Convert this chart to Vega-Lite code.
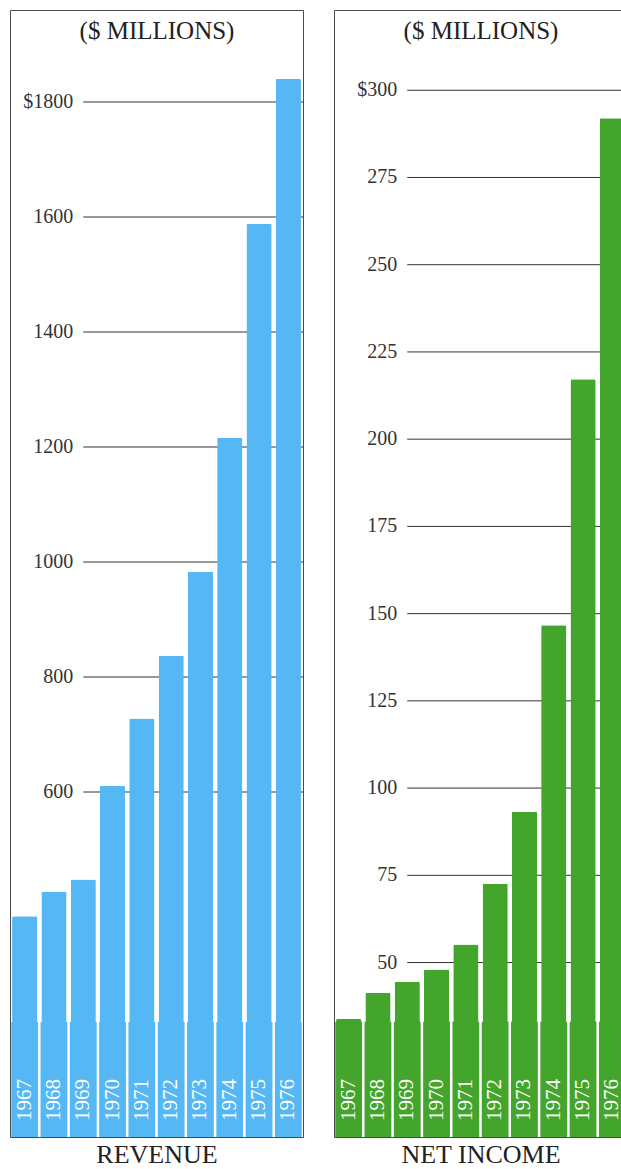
{
  "$schema": "https://vega.github.io/schema/vega-lite/v6.json",
  "background": "white",
  "padding": {"left": 9, "top": 9, "right": 0, "bottom": 0},
  "config": {
    "font": "Liberation Serif",
    "view": {"stroke": "#4a4a4a", "strokeWidth": 1},
    "concat": {"spacing": 29}
  },
  "datasets": {
    "financials": [
      {"year": "1967", "revenue": 384, "netIncome": 33.8},
      {"year": "1968", "revenue": 427, "netIncome": 41.3},
      {"year": "1969", "revenue": 448, "netIncome": 44.5},
      {"year": "1970", "revenue": 611, "netIncome": 48.0},
      {"year": "1971", "revenue": 728, "netIncome": 55.2},
      {"year": "1972", "revenue": 837, "netIncome": 72.6},
      {"year": "1973", "revenue": 983, "netIncome": 93.2},
      {"year": "1974", "revenue": 1216, "netIncome": 146.7},
      {"year": "1975", "revenue": 1588, "netIncome": 217.2},
      {"year": "1976", "revenue": 1840, "netIncome": 292.0}
    ],
    "revenueTicks": [
      {"value": 600, "label": "600"},
      {"value": 800, "label": "800"},
      {"value": 1000, "label": "1000"},
      {"value": 1200, "label": "1200"},
      {"value": 1400, "label": "1400"},
      {"value": 1600, "label": "1600"},
      {"value": 1800, "label": "$1800"}
    ],
    "incomeTicks": [
      {"value": 50, "label": "50"},
      {"value": 75, "label": "75"},
      {"value": 100, "label": "100"},
      {"value": 125, "label": "125"},
      {"value": 150, "label": "150"},
      {"value": 175, "label": "175"},
      {"value": 200, "label": "200"},
      {"value": 225, "label": "225"},
      {"value": 250, "label": "250"},
      {"value": 275, "label": "275"},
      {"value": 300, "label": "$300"}
    ]
  },
  "hconcat": [
    {
      "width": 293,
      "height": 1127,
      "resolve": {"axis": {"x": "independent"}},
      "layer": [
        {
          "data": {"name": "revenueTicks"},
          "mark": {"type": "rule", "color": "#333333", "strokeWidth": 1},
          "encoding": {
            "x": {"datum": "1969", "type": "ordinal", "axis": {"orient": "top", "labels": false, "ticks": false, "domain": false, "grid": false, "title": "($ MILLIONS)", "titleFont": "Liberation Serif", "titleFontSize": 25, "titleFontWeight": "normal", "titleColor": "#222222", "titleBaseline": "alphabetic", "titleY": 28}},
            "x2": {"value": "width"},
            "y": {"field": "value", "type": "quantitative", "scale": {"domain": [0, 1960], "nice": false}, "axis": null}
          }
        },
        {
          "data": {"name": "revenueTicks"},
          "mark": {"type": "text", "align": "right", "baseline": "middle", "dx": -10, "color": "#333333", "font": "Liberation Serif", "fontSize": 20},
          "encoding": {
            "x": {"datum": "1969", "type": "ordinal", "axis": null},
            "y": {"field": "value", "type": "quantitative", "scale": {"domain": [0, 1960], "nice": false}, "axis": null},
            "text": {"field": "label"}
          }
        },
        {
          "data": {"name": "financials"},
          "mark": {"type": "bar", "color": "#55b8f4", "width": {"band": 0.86}, "cornerRadiusTopLeft": 1.5, "cornerRadiusTopRight": 1.5},
          "encoding": {
            "x": {
              "field": "year", "type": "ordinal",
              "scale": {"paddingInner": 0, "paddingOuter": 0},
              "axis": {"orient": "bottom", "labels": false, "ticks": false, "domain": false, "grid": false, "title": "REVENUE", "titleFont": "Liberation Serif", "titleFontSize": 26, "titleFontWeight": "normal", "titleColor": "#222222", "titlePadding": 25, "titleBaseline": "alphabetic"}
            },
            "y": {"field": "revenue", "type": "quantitative", "scale": {"domain": [0, 1960], "nice": false}, "axis": null}
          }
        },
        {
          "data": {"name": "financials"},
          "mark": {"type": "bar", "color": "#55b8f4", "width": {"band": 0.915}},
          "encoding": {
            "x": {"field": "year", "type": "ordinal", "axis": null},
            "y": {"datum": 0, "type": "quantitative", "axis": null},
            "y2": {"datum": 200}
          }
        },
        {
          "data": {"name": "financials"},
          "mark": {"type": "text", "angle": 270, "align": "left", "baseline": "middle", "dx": 16, "color": "white", "font": "Liberation Serif", "fontSize": 21},
          "encoding": {
            "x": {"field": "year", "type": "ordinal", "axis": null},
            "y": {"datum": 0, "type": "quantitative", "axis": null},
            "text": {"field": "year"}
          }
        }
      ]
    },
    {
      "width": 293,
      "height": 1127,
      "resolve": {"axis": {"x": "independent"}},
      "layer": [
        {
          "data": {"name": "incomeTicks"},
          "mark": {"type": "rule", "color": "#333333", "strokeWidth": 1},
          "encoding": {
            "x": {"datum": "1969", "type": "ordinal", "axis": {"orient": "top", "labels": false, "ticks": false, "domain": false, "grid": false, "title": "($ MILLIONS)", "titleFont": "Liberation Serif", "titleFontSize": 25, "titleFontWeight": "normal", "titleColor": "#222222", "titleBaseline": "alphabetic", "titleY": 28}},
            "x2": {"value": "width"},
            "y": {"field": "value", "type": "quantitative", "scale": {"domain": [0, 323], "nice": false}, "axis": null}
          }
        },
        {
          "data": {"name": "incomeTicks"},
          "mark": {"type": "text", "align": "right", "baseline": "middle", "dx": -10, "color": "#333333", "font": "Liberation Serif", "fontSize": 20},
          "encoding": {
            "x": {"datum": "1969", "type": "ordinal", "axis": null},
            "y": {"field": "value", "type": "quantitative", "scale": {"domain": [0, 323], "nice": false}, "axis": null},
            "text": {"field": "label"}
          }
        },
        {
          "data": {"name": "financials"},
          "mark": {"type": "bar", "color": "#43a52b", "width": {"band": 0.86}, "cornerRadiusTopLeft": 1.5, "cornerRadiusTopRight": 1.5},
          "encoding": {
            "x": {
              "field": "year", "type": "ordinal",
              "scale": {"paddingInner": 0, "paddingOuter": 0},
              "axis": {"orient": "bottom", "labels": false, "ticks": false, "domain": false, "grid": false, "title": "NET INCOME", "titleFont": "Liberation Serif", "titleFontSize": 26, "titleFontWeight": "normal", "titleColor": "#222222", "titlePadding": 25, "titleBaseline": "alphabetic"}
            },
            "y": {"field": "netIncome", "type": "quantitative", "scale": {"domain": [0, 323], "nice": false}, "axis": null}
          }
        },
        {
          "data": {"name": "financials"},
          "mark": {"type": "bar", "color": "#43a52b", "width": {"band": 0.915}},
          "encoding": {
            "x": {"field": "year", "type": "ordinal", "axis": null},
            "y": {"datum": 0, "type": "quantitative", "axis": null},
            "y2": {"datum": 33}
          }
        },
        {
          "data": {"name": "financials"},
          "mark": {"type": "text", "angle": 270, "align": "left", "baseline": "middle", "dx": 16, "color": "white", "font": "Liberation Serif", "fontSize": 21},
          "encoding": {
            "x": {"field": "year", "type": "ordinal", "axis": null},
            "y": {"datum": 0, "type": "quantitative", "axis": null},
            "text": {"field": "year"}
          }
        }
      ]
    }
  ]
}
